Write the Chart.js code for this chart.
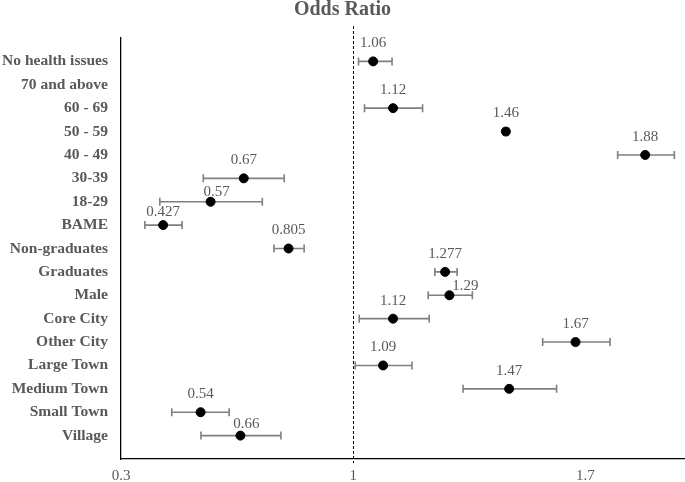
<!DOCTYPE html>
<html>
<head>
<meta charset="utf-8">
<script src="https://cdn.jsdelivr.net/npm/chart.js@4"></script>
<style>
  body { margin: 0; background: #fff; }
  #wrap { width: 685px; height: 482px; }
</style>
</head>
<body>
<div id="wrap"><canvas id="forestChart" width="685" height="482"></canvas></div>
<script>
// categories, top to bottom
const categories = ['No health issues', '70 and above', '60 - 69', '50 - 59', '40 - 49', '30-39', '18-29',
  'BAME', 'Non-graduates', 'Graduates', 'Male', 'Core City', 'Other City', 'Large Town',
  'Medium Town', 'Small Town', 'Village'];
const oddsRatio = [1.06, null, 1.12, 1.46, 1.88, 0.67, 0.57, 0.427, 0.805, 1.277, 1.29, 1.12, 1.67, 1.09, 1.47, 0.54, 0.66];
const ciLow  = [1.016, null, 1.034, 1.452, 1.797, 0.548, 0.417, 0.372, 0.761, 1.246, 1.226, 1.018, 1.571, 1.006, 1.331, 0.453, 0.541];
const ciHigh = [1.117, null, 1.209, 1.468, 1.968, 0.792, 0.726, 0.484, 0.852, 1.313, 1.359, 1.229, 1.774, 1.177, 1.613, 0.626, 0.782];
const xTicks = [0.3, 1, 1.7];
const refLine = 1;

const GREY = '#595959';
const SERIF = '"Liberation Serif", "DejaVu Serif", serif';

// label nudges where the value text would collide (dx, distance above point)
const labelNudge = { 6: [6, 10], 7: [0, 13], 10: [16, 9], 16: [6, 12] };

const points = [];
oddsRatio.forEach((v, i) => {
  if (v !== null) points.push({ x: v, y: i + 1, idx: i });
});

const errorBars = {
  id: 'errorBars',
  beforeDatasetsDraw(chart) {
    const { ctx, scales: { x, y }, chartArea } = chart;
    ctx.save();
    // dashed reference line at OR = 1
    const rx = x.getPixelForValue(refLine);
    ctx.strokeStyle = '#000';
    ctx.lineWidth = 1;
    ctx.setLineDash([3, 2]);
    ctx.beginPath();
    ctx.moveTo(Math.round(rx) + 0.5, chartArea.top - 12);
    ctx.lineTo(Math.round(rx) + 0.5, chartArea.bottom + 4);
    ctx.stroke();
    ctx.setLineDash([]);

    ctx.strokeStyle = '#7f7f7f';
    ctx.lineWidth = 1.6;
    for (let i = 0; i < oddsRatio.length; i++) {
      if (ciLow[i] === null) continue;
      const yy = y.getPixelForValue(i + 1);
      const x1 = x.getPixelForValue(ciLow[i]);
      const x2 = x.getPixelForValue(ciHigh[i]);
      ctx.beginPath();
      ctx.moveTo(x1, yy); ctx.lineTo(x2, yy);
      ctx.moveTo(x1, yy - 4); ctx.lineTo(x1, yy + 4);
      ctx.moveTo(x2, yy - 4); ctx.lineTo(x2, yy + 4);
      ctx.stroke();
    }
    ctx.restore();
  },
  afterDatasetsDraw(chart) {
    const { ctx, scales: { x, y } } = chart;
    ctx.save();
    ctx.fillStyle = GREY;
    ctx.font = '15px ' + SERIF;
    ctx.textAlign = 'center';
    ctx.textBaseline = 'middle';
    points.forEach(p => {
      const n = labelNudge[p.idx] || [0, 18];
      ctx.fillText(String(p.x), x.getPixelForValue(p.x) + n[0], y.getPixelForValue(p.y) - n[1]);
    });
    ctx.restore();
  }
};

new Chart(document.getElementById('forestChart'), {
  type: 'scatter',
  data: {
    datasets: [{
      label: 'Odds Ratio',
      data: points,
      backgroundColor: '#000',
      borderColor: '#000',
      pointRadius: 4.5,
      pointHoverRadius: 4.5,
      clip: false
    }]
  },
  plugins: [errorBars],
  options: {
    responsive: false,
    animation: false,
    layout: { padding: 0, autoPadding: false },
    plugins: {
      legend: { display: false },
      tooltip: { enabled: false },
      title: {
        display: true,
        text: 'Odds Ratio',
        color: GREY,
        font: { family: SERIF, size: 20, weight: 'bold', lineHeight: 1 },
        padding: { top: 0, bottom: 18 }
      }
    },
    scales: {
      x: {
        type: 'linear',
        min: 0.3,
        max: 2.0,
        afterBuildTicks: s => { s.ticks = xTicks.map(v => ({ value: v })); },
        afterFit: s => { s.height = 23; s.paddingRight = 0; s.paddingLeft = 0; },
        grid: { display: false, drawTicks: false },
        border: { display: true, color: '#000', width: 1.3 },
        ticks: {
          color: GREY,
          font: { family: SERIF, size: 15 },
          padding: 8,
          maxRotation: 0,
          callback: v => String(v)
        }
      },
      y: {
        type: 'linear',
        min: 0,
        max: categories.length + 1,
        reverse: true,
        afterBuildTicks: s => { s.ticks = categories.map((c, i) => ({ value: i + 1 })); },
        afterFit: s => { s.width = 121; s.paddingTop = 0; s.paddingBottom = 0; },
        grid: { display: false, drawTicks: false },
        border: { display: true, color: '#000', width: 1.3 },
        ticks: {
          color: GREY,
          font: { family: SERIF, size: 15.5, weight: 'bold' },
          padding: 13,
          autoSkip: false,
          callback: v => categories[v - 1] || ''
        }
      }
    }
  }
});
</script>
</body>
</html>
